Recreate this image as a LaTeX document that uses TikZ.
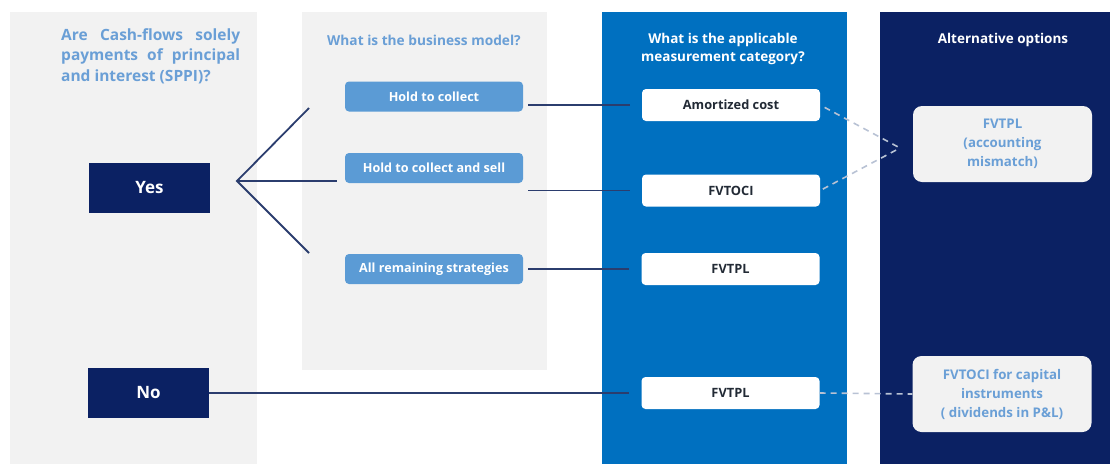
\documentclass[tikz,border=0pt]{standalone}
\usepackage{fontspec}
\setmainfont{Open Sans}
\definecolor{pgray}{HTML}{F2F2F2}
\definecolor{navy}{HTML}{0B2163}
\definecolor{pblue}{HTML}{0070C0}
\definecolor{mblue}{HTML}{5B9BD5}
\definecolor{ltxt}{HTML}{6A9FD6}
\definecolor{lnav}{HTML}{2B3D6E}
\definecolor{dashc}{HTML}{B8C2D4}
\definecolor{boxtxt}{HTML}{222A35}
\tikzset{
  qtitle/.style={text=ltxt, font=\bfseries\fontsize{13.7}{18}\selectfont, align=center, inner sep=0},
  wtitle/.style={text=white, font=\bfseries\fontsize{13.5}{18}\selectfont, align=center, inner sep=0},
  yesno/.style={fill=navy, text=white, font=\bfseries\fontsize{17}{18}\selectfont, minimum width=121pt, minimum height=50pt, inner sep=0},
  bmbox/.style={fill=mblue, text=white, rounded corners=4pt, font=\bfseries\fontsize{12.6}{14}\selectfont, minimum width=178pt, minimum height=30pt, inner sep=0},
  mcbox/.style={fill=white, text=boxtxt, rounded corners=4pt, font=\bfseries\fontsize{12.8}{14}\selectfont, minimum width=178pt, minimum height=32pt, inner sep=0},
  altbox/.style={fill=pgray, text=ltxt, rounded corners=9pt, font=\bfseries\fontsize{13.3}{19}\selectfont, align=center, minimum width=179pt, minimum height=76pt, inner sep=0},
  conn/.style={draw=lnav, line width=1.8pt},
  dconn/.style={draw=dashc, line width=1.6pt, dash pattern=on 6pt off 5pt}
}
\begin{document}
\begin{tikzpicture}[x=1pt,y=-1pt]
\useasboundingbox (0,0) rectangle (1114,464);
% panels
\fill[pgray] (10,12) rectangle (257,464);
\fill[pgray] (302,12) rectangle (547,370);
\fill[pblue] (602,12) rectangle (847,464);
\fill[navy] (880,12) rectangle (1110,464);
% titles
\node[anchor=north west, inner sep=0, text=ltxt, font=\bfseries\fontsize{15.5}{20.5}\selectfont, align=left] (q1) at (61,28)
  {\makebox[179pt][s]{Are Cash-flows solely}\\ \makebox[179pt][s]{payments of principal}\\ and interest (SPPI)?};
\node[qtitle] (q2) at (424,40) {What is the business model?};
\node[wtitle] (q3) at (723,49) {What is the applicable\\measurement category?};
\node[wtitle] (q4) at (1003,40) {Alternative options};
% yes / no
\node[yesno] (yes) at (149.5,188) {Yes};
\node[yesno] (no) at (148.5,393) {No};
% business model
\node[bmbox] (hold) at (434,96.5) {Hold to collect};
\node[bmbox] (sell) at (434,168) {Hold to collect and sell};
\node[bmbox] (rem) at (434,269) {All remaining strategies};
% measurement
\node[mcbox] (amort) at (731,105) {Amortized cost};
\node[mcbox] (fvoci) at (731,190.5) {FVTOCI};
\node[mcbox] (fvpl) at (730.5,269) {FVTPL};
\node[mcbox] (fvpl2) at (730.5,393) {FVTPL};
% alternatives
\node[altbox] (alt1) at (1002.5,144) {FVTPL\\(accounting\\mismatch)};
\node[altbox] (alt2) at (1002,394) {FVTOCI for capital\\instruments\\( dividends in P\&L)};
% fan
\coordinate (fan) at (237,181);
\coordinate (fanu) at (309,108);
\coordinate (fanm) at (337,181);
\coordinate (fand) at (309,253);
\draw[conn] (fanu) -- (fan) -- (fand);
\draw[conn] (fan) -- (fanm);
% connectors
\draw[conn, shorten <=5pt, shorten >=12pt] (hold.east |- amort.west) -- (amort.west);
\draw[conn, shorten <=5pt, shorten >=12pt] (sell.east |- fvoci.west) -- (fvoci.west);
\draw[conn, shorten <=5pt, shorten >=12pt] (rem.east) -- (fvpl.west);
\draw[conn, shorten >=12pt] (no.east) -- (fvpl2.west);
% dashed
\coordinate (conv) at (900,148);
\draw[dconn, shorten <=5pt] (amort.east) -- (conv);
\draw[dconn, shorten <=3pt] (fvoci.east) -- (conv);
\draw[dconn] (fvpl2.east) -- (alt2.west);
\end{tikzpicture}
\end{document}
